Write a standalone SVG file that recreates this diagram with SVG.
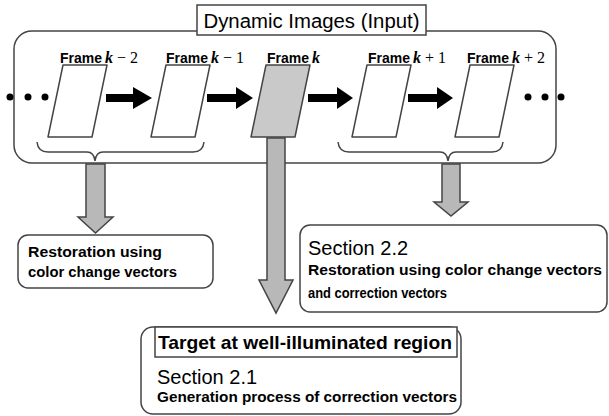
<svg xmlns="http://www.w3.org/2000/svg" width="609" height="416" viewBox="0 0 609 416">
<style>
.box{fill:#fff;stroke:#444;stroke-width:1.5}
.frame{fill:#fff;stroke:#444;stroke-width:1.5;stroke-linejoin:round}
.frameg{fill:#c9c9c9;stroke:#444;stroke-width:1.5;stroke-linejoin:round}
.brace{fill:none;stroke:#444;stroke-width:1.5}
.blk{fill:#000}
.garrow{fill:#b8b8b8;stroke:#444;stroke-width:1.5;stroke-linejoin:miter}
.t{font-family:"Liberation Sans",Arial,sans-serif;fill:#000}
.b{font-weight:bold}
.fr{font-family:"Liberation Sans",Arial,sans-serif;font-weight:bold;font-size:14px}
.kk{font-family:"Liberation Serif","Times New Roman",serif;font-style:italic;font-weight:bold;font-size:16px}
.nn{font-family:"Liberation Serif","Times New Roman",serif;font-size:16px}
</style>

<g id="input-group">
  <rect class="box" x="14" y="31" width="542" height="132" rx="18" ry="18"/>
</g>

<g id="title">
  <rect class="box" x="197" y="5" width="229" height="30"/>
  <text class="t" x="311.5" y="28" font-size="20" text-anchor="middle" textLength="216" lengthAdjust="spacingAndGlyphs">Dynamic Images (Input)</text>
</g>

<g id="frame-km2">
  <polygon class="frame" points="63,65 107,65 92,137 48,137"/>
  <text x="60" y="63"><tspan class="fr">Frame</tspan><tspan class="kk" dx="3">k</tspan><tspan class="nn" dx="4">− 2</tspan></text>
</g>
<g id="frame-km1">
  <polygon class="frame" points="166,65 210,65 195,137 151,137"/>
  <text x="166" y="63"><tspan class="fr">Frame</tspan><tspan class="kk" dx="3">k</tspan><tspan class="nn" dx="4">− 1</tspan></text>
</g>
<g id="frame-k">
  <polygon class="frameg" points="266,65 310,65 295,137 251,137"/>
  <text x="267" y="63"><tspan class="fr">Frame</tspan><tspan class="kk" dx="3">k</tspan></text>
</g>
<g id="frame-kp1">
  <polygon class="frame" points="367,65 411,65 396,137 352,137"/>
  <text x="368" y="63"><tspan class="fr">Frame</tspan><tspan class="kk" dx="3">k</tspan><tspan class="nn" dx="4">+ 1</tspan></text>
</g>
<g id="frame-kp2">
  <polygon class="frame" points="470,65 514,65 499,137 455,137"/>
  <text x="467" y="63"><tspan class="fr">Frame</tspan><tspan class="kk" dx="3">k</tspan><tspan class="nn" dx="4">+ 2</tspan></text>
</g>

<g id="ellipses">
  <circle class="blk" cx="10" cy="97" r="3.5"/>
  <circle class="blk" cx="28" cy="97" r="3.5"/>
  <circle class="blk" cx="45" cy="97" r="3.5"/>
  <circle class="blk" cx="528" cy="97" r="3.5"/>
  <circle class="blk" cx="545" cy="97" r="3.5"/>
  <circle class="blk" cx="561" cy="97" r="3.5"/>
</g>

<g id="connectors">
  <polygon class="blk" points="106,94 133,94 133,87 152,98 133,109 133,102 106,102"/>
  <polygon class="blk" points="207,94 236,94 236,87 253,98 236,109 236,102 207,102"/>
  <polygon class="blk" points="308,94 337,94 337,87 353,98 337,109 337,102 308,102"/>
  <polygon class="blk" points="408,94 437,94 437,87 453,98 437,109 437,102 408,102"/>
  <path class="brace" d="M37,142 Q38,152 48,152 L87,152 Q94,152 95,161 Q96,152 103,152 L193,152 Q203,152 204,142"/>
  <path class="brace" d="M338,142 Q339,152 349,152 L440,152 Q447,152 448,161 Q449,152 456,152 L492,152 Q502,152 503,142"/>
  <polygon class="garrow" points="86,164 105,164 105,217 113,217 95.5,233 78,217 86,217"/>
  <polygon class="garrow" points="267,138 285,138 285,280 293,280 276,313 259,280 267,280"/>
  <polygon class="garrow" points="442,164 460,164 460,202 468,202 451,216 434,202 442,202"/>
</g>

<g id="restoration-color">
  <rect class="box" x="18" y="235" width="195" height="53" rx="10" ry="10"/>
  <text class="t b" x="28" y="257" font-size="14" textLength="134" lengthAdjust="spacingAndGlyphs">Restoration using</text>
  <text class="t b" x="28" y="277" font-size="14" textLength="149" lengthAdjust="spacingAndGlyphs">color change vectors</text>
</g>

<g id="section-2-2">
  <rect class="box" x="300" y="225" width="307" height="87" rx="10" ry="10"/>
  <text class="t" x="308" y="255" font-size="20">Section 2.2</text>
  <text class="t b" x="308" y="275" font-size="14" textLength="294" lengthAdjust="spacingAndGlyphs">Restoration using color change vectors</text>
  <text class="t b" x="308" y="298" font-size="14" textLength="139" lengthAdjust="spacingAndGlyphs">and correction vectors</text>
</g>

<g id="section-2-1">
  <rect class="box" x="141" y="327" width="320" height="87" rx="12" ry="12"/>
  <rect class="box" x="155" y="327" width="302" height="30"/>
  <text class="t b" x="158" y="349" font-size="19" textLength="294" lengthAdjust="spacingAndGlyphs">Target at well-illuminated region</text>
  <text class="t" x="157" y="384" font-size="20">Section 2.1</text>
  <text class="t b" x="157" y="402" font-size="14" textLength="300" lengthAdjust="spacingAndGlyphs">Generation process of correction vectors</text>
</g>
</svg>
